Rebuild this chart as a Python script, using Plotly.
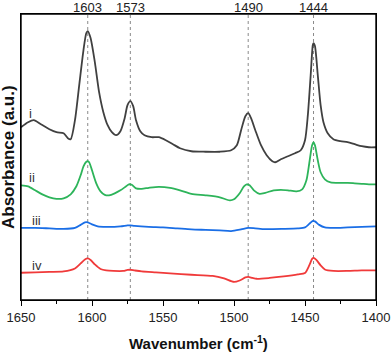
import plotly.graph_objects as go

# ---- data (absorbance, arbitrary units, curves offset) ----
wn_i = [1650, 1645, 1641, 1636, 1630, 1625, 1620, 1617, 1615, 1612, 1609, 1606, 1604, 1603, 1601, 1598, 1595,
        1592, 1589, 1586, 1583, 1580, 1577, 1575, 1573, 1571, 1569, 1566, 1563, 1558, 1553, 1548, 1543, 1538,
        1530, 1520, 1510, 1502, 1498, 1495, 1492, 1490, 1488, 1485, 1481, 1477, 1473, 1471, 1467, 1462, 1457,
        1453, 1450, 1448, 1446, 1444.5, 1444, 1443, 1441, 1439, 1437, 1434, 1430, 1425, 1420, 1415, 1410, 1405, 1400]
abs_i = [173, 178, 180, 176, 171, 168, 167, 162, 161, 180, 215, 250, 267, 269, 262, 238, 208,
         188, 175, 168, 165, 169, 182, 195, 199, 194, 180, 169, 165, 163, 163, 160, 156, 152,
         149, 148.5, 148.5, 150, 155, 170, 184, 187, 182, 170, 155, 145, 139, 138, 141, 144, 147,
         150, 160, 185, 225, 255, 257, 254, 225, 195, 178, 167, 161, 159, 158, 156, 154, 153, 153]

wn_ii = [1650, 1645, 1640, 1635, 1630, 1625, 1620, 1615, 1611, 1608, 1606, 1604, 1603, 1602, 1600, 1597, 1594,
         1591, 1588, 1584, 1580, 1576, 1574, 1572, 1569, 1565, 1560, 1553, 1545, 1538, 1530, 1520, 1510, 1503,
         1500, 1496, 1493, 1491, 1489, 1486, 1482, 1478, 1472, 1467, 1462, 1456, 1452, 1449, 1447, 1445, 1444,
         1443, 1441, 1439, 1436, 1432, 1425, 1420, 1415, 1410, 1405, 1400]
abs_ii = [115, 114, 110, 106, 103, 101.5, 102, 106, 114, 125, 134, 138.5, 139, 138, 130, 117, 109,
          105.5, 105, 107, 110, 114, 116, 115.5, 112, 111.5, 112.5, 113.5, 112.5, 110, 106.5, 105, 103, 100,
          101, 107, 114, 116, 115, 110, 106.5, 107.5, 110, 110.5, 110, 109, 111, 120, 137, 155, 158,
          155, 140, 128, 121, 118, 117.5, 117.5, 117, 116.5, 116, 116]

wn_iii = [1650, 1640, 1630, 1620, 1612, 1608, 1605, 1603, 1600, 1596, 1590, 1580, 1575, 1573, 1570, 1560, 1550,
          1540, 1530, 1520, 1510, 1502, 1495, 1490, 1485, 1478, 1465, 1455, 1450, 1447, 1444.5, 1443, 1440,
          1436, 1430, 1420, 1410, 1400]
abs_iii = [72.5, 72.5, 72, 71.5, 72.5, 75.5, 78, 78, 76, 74, 73.5, 74, 75, 75, 74.5, 73.5, 73,
           72, 71, 70.5, 70, 69.3, 71, 72.5, 72, 71.2, 71.5, 72, 73, 76.5, 79.5, 79, 75.5,
           73, 72.5, 73, 73.5, 74]

wn_iv = [1650, 1640, 1630, 1620, 1612, 1608, 1605, 1603, 1601, 1598, 1594, 1590, 1585, 1578, 1575, 1573, 1570,
         1565, 1555, 1545, 1530, 1515, 1507, 1500, 1496, 1492, 1490, 1487, 1484, 1475, 1465, 1455, 1450, 1447,
         1445, 1444, 1442, 1439, 1436, 1430, 1420, 1410, 1400]
abs_iv = [27.7, 28, 28.5, 29, 32, 37, 41, 42, 40.5, 36, 31.5, 30, 29.5, 29.5, 30.5, 30.7, 30,
          29, 28, 27, 25.7, 24.5, 22, 18.5, 20, 23, 23.5, 22.5, 21.7, 22.5, 24, 26, 27.5, 35,
          41.5, 42.5, 40.5, 35, 31, 29.5, 29.5, 30, 30]

series_names = ["i", "ii", "iii", "iv"]
series_colors = ["#404040", "#2db45a", "#1a6ee6", "#f03a3a"]
label_pos_x = [1645.5, 1645.5, 1643.5, 1644]
label_pos_y = [187, 123, 80, 35]

peaks = [1603, 1573, 1490, 1444]
xtick_vals = [1650, 1600, 1550, 1500, 1450, 1400]

FONT = "Arial, Liberation Sans, sans-serif"

fig = go.Figure()
for wn, ab, name, col in zip([wn_i, wn_ii, wn_iii, wn_iv], [abs_i, abs_ii, abs_iii, abs_iv],
                             series_names, series_colors):
    fig.add_trace(go.Scatter(x=wn, y=ab, mode="lines", name=name,
                             line=dict(color=col, width=1.8, shape="spline", smoothing=0.7),
                             showlegend=False))

for p in peaks:
    fig.add_shape(type="line", xref="x", yref="paper", x0=p, x1=p, y0=0, y1=1,
                  line=dict(color="#8a8a8a", width=1, dash="dot"), layer="below")
    fig.add_annotation(x=p, xref="x", y=1, yref="paper", yanchor="bottom", text=str(p),
                       showarrow=False, font=dict(family=FONT, size=13, color="#222"), yshift=-3)

# plot frame
fig.add_shape(type="rect", xref="paper", yref="paper", x0=0, x1=1, y0=0, y1=1,
              line=dict(color="black", width=1.4), fillcolor="rgba(0,0,0,0)", layer="above")

for name, lx, ly in zip(series_names, label_pos_x, label_pos_y):
    fig.add_annotation(x=lx, y=ly, xref="x", yref="y", text=name, showarrow=False,
                       xanchor="left", font=dict(family=FONT, size=13, color="#333"))

# axis titles as annotations for exact placement
fig.add_annotation(x=0, xref="paper", y=0.5, yref="paper", text="<b>Absorbance (a.u.)</b>",
                   textangle=-90, showarrow=False, xanchor="center", yanchor="middle", xshift=-13,
                   font=dict(family=FONT, size=17, color="#111"))
fig.add_annotation(x=0.5, xref="paper", y=0, yref="paper", text="<b>Wavenumber (cm<sup>-1</sup>)</b>",
                   showarrow=False, xanchor="center", yanchor="middle", yshift=-42,
                   font=dict(family=FONT, size=15, color="#111"))

fig.update_layout(
    width=392, height=352,
    margin=dict(l=21, r=16, t=14, b=52, autoexpand=False),
    paper_bgcolor="white", plot_bgcolor="white",
    font=dict(family=FONT, color="#111"),
    xaxis=dict(range=[1650, 1400], tickvals=xtick_vals, ticks="outside", ticklen=5, tickwidth=1.3,
               tickcolor="black", showline=True, linecolor="black", linewidth=1.4, mirror=True,
               showgrid=False, zeroline=False, tickfont=dict(size=13, family=FONT, color="#222"),
               minor=dict(dtick=25, tick0=1400, ticks="outside", ticklen=3, tickcolor="black", tickwidth=1.3),
               automargin=False),
    yaxis=dict(range=[0.5, 286], showticklabels=False, ticks="", showline=True, linecolor="black",
               linewidth=1.4, mirror=True, showgrid=False, zeroline=False, automargin=False),
)

fig.write_html("out.html", post_script="document.body.style.margin='0px';",
               config={"displayModeBar": False})
